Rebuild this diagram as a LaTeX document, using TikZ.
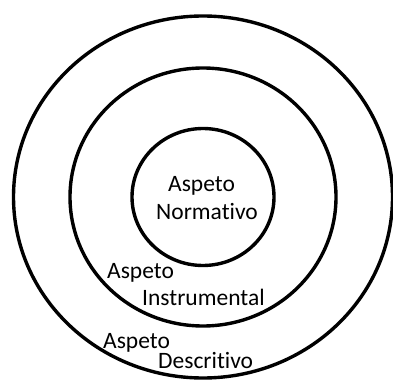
\documentclass[tikz,border=0pt]{standalone}
\usepackage{fontspec}
\setmainfont[Ligatures={NoCommon,NoRare}]{Carlito}
\usetikzlibrary{positioning}

\begin{document}
\begin{tikzpicture}[x=1pt, y=1pt,
  ring/.style={line width=3.4pt, black},
  label/.style={anchor=base west, inner sep=0pt, font=\fontsize{23.5}{28}\selectfont}]
\useasboundingbox (0, 0) rectangle (393, 383);
\coordinate (c) at (203, 186);
\foreach \rx/\ry in {71/68.5, 133/129, 189.5/181} \draw [ring] (c) ellipse ({\rx} and {\ry});
\node [label] (norm1) at (168, 191) {Aspeto};
\node [label] (norm2) at (156, 163) {Normativo};
\node [label] (inst1) at (107, 105) {Aspeto};
\node [label] (inst2) at (142, 78) {Instrumental};
\node [label] (desc1) at (103, 35) {Aspeto};
\node [label] (desc2) at (158, 15) {Descritivo};
\end{tikzpicture}
\end{document}
